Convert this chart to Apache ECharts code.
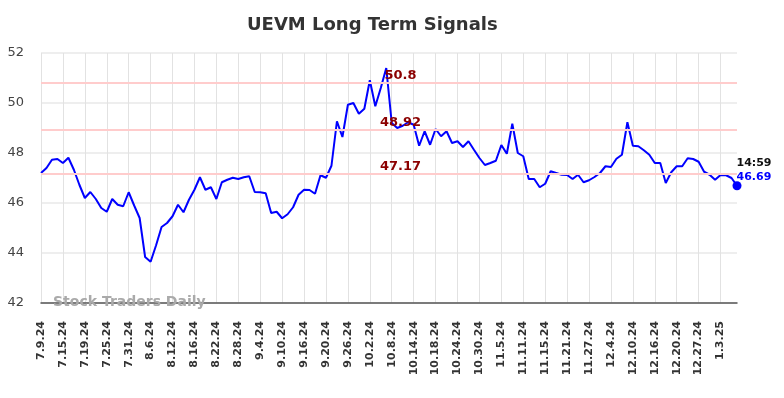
<!DOCTYPE html>
<html>
<head>
<meta charset="utf-8">
<script src="https://cdn.jsdelivr.net/npm/echarts@6/dist/echarts.min.js"></script>
<style>
  html, body { margin: 0; padding: 0; background: #fff; }
  #chart { width: 784px; height: 398px; }
</style>
</head>
<body>
<div id="chart"></div>
<script>
const dates = [
  '7.9.24', '7.10.24', '7.11.24', '7.12.24', '7.15.24', '7.16.24', '7.17.24', '7.18.24', '7.19.24', '7.22.24',
  '7.23.24', '7.24.24', '7.25.24', '7.26.24', '7.29.24', '7.30.24', '7.31.24', '8.1.24', '8.2.24', '8.5.24',
  '8.6.24', '8.7.24', '8.8.24', '8.9.24', '8.12.24', '8.13.24', '8.14.24', '8.15.24', '8.16.24', '8.19.24',
  '8.20.24', '8.21.24', '8.22.24', '8.23.24', '8.26.24', '8.27.24', '8.28.24', '8.29.24', '8.30.24', '9.3.24',
  '9.4.24', '9.5.24', '9.6.24', '9.9.24', '9.10.24', '9.11.24', '9.12.24', '9.13.24', '9.16.24', '9.17.24',
  '9.18.24', '9.19.24', '9.20.24', '9.23.24', '9.24.24', '9.25.24', '9.26.24', '9.27.24', '9.30.24', '10.1.24',
  '10.2.24', '10.3.24', '10.4.24', '10.7.24', '10.8.24', '10.9.24', '10.10.24', '10.11.24', '10.14.24', '10.15.24',
  '10.16.24', '10.17.24', '10.18.24', '10.21.24', '10.22.24', '10.23.24', '10.24.24', '10.25.24', '10.28.24', '10.29.24',
  '10.30.24', '10.31.24', '11.1.24', '11.4.24', '11.5.24', '11.6.24', '11.7.24', '11.8.24', '11.11.24', '11.12.24',
  '11.13.24', '11.14.24', '11.15.24', '11.18.24', '11.19.24', '11.20.24', '11.21.24', '11.22.24', '11.25.24', '11.26.24',
  '11.27.24', '11.29.24', '12.2.24', '12.3.24', '12.4.24', '12.5.24', '12.6.24', '12.9.24', '12.10.24', '12.11.24',
  '12.12.24', '12.13.24', '12.16.24', '12.17.24', '12.18.24', '12.19.24', '12.20.24', '12.23.24', '12.24.24', '12.26.24',
  '12.27.24', '12.30.24', '12.31.24', '1.2.25', '1.3.25', '1.6.25', '1.7.25', '1.8.25'
]

const prices = [
  47.2, 47.4, 47.73, 47.76, 47.6, 47.81, 47.33, 46.73, 46.2, 46.44,
  46.16, 45.8, 45.65, 46.16, 45.93, 45.87, 46.43, 45.9, 45.4, 43.84,
  43.65, 44.31, 45.04, 45.2, 45.47, 45.93, 45.63, 46.13, 46.53, 47.03,
  46.53, 46.63, 46.16, 46.83, 46.93, 47.01, 46.96, 47.03, 47.07, 46.44,
  46.43, 46.39, 45.6, 45.65, 45.39, 45.55, 45.83, 46.33, 46.53, 46.52,
  46.37, 47.11, 47.01, 47.49, 49.27, 48.64, 49.93, 50.0, 49.57, 49.77,
  50.91, 49.87, 50.6, 51.4, 49.2, 49.0, 49.09, 49.23, 49.13, 48.29,
  48.87, 48.33, 48.96, 48.67, 48.87, 48.4, 48.47, 48.24, 48.47, 48.13,
  47.8, 47.52, 47.6, 47.69, 48.32, 47.97, 49.17, 48.0, 47.87, 46.96,
  46.96, 46.63, 46.77, 47.27, 47.2, 47.13, 47.12, 46.96, 47.13, 46.83,
  46.91, 47.04, 47.2, 47.47, 47.44, 47.77, 47.93, 49.23, 48.29, 48.27,
  48.11, 47.93, 47.6, 47.6, 46.8, 47.23, 47.47, 47.47, 47.79, 47.76,
  47.65, 47.25, 47.13, 46.93, 47.12, 47.11, 47.0, 46.69
]

const signals = [50.8, 48.92, 47.17]
const lastTime = '14:59'

const chart = echarts.init(document.getElementById('chart'))
const lastIdx = prices.length - 1

chart.setOption({
  animation: false,
  title: [
    {
      text: 'UEVM Long Term Signals',
      left: 247,
      top: 16,
      padding: 0,
      textStyle: { fontFamily: 'DejaVu Sans', fontWeight: 'bold', fontSize: 18, color: '#333' },
    },
    {
      text: 'Stock Traders Daily',
      left: 53,
      top: 295,
      padding: 0,
      z: 0,
      textStyle: { fontFamily: 'DejaVu Sans', fontWeight: 'bold', fontSize: 14, color: '#aaa' },
    },
  ],
  grid: { left: 41, right: 47, top: 53, bottom: 95 },
  xAxis: {
    type: 'category',
    data: dates,
    boundaryGap: false,
    axisLine: { lineStyle: { color: '#555', width: 1.5 } },
    axisTick: { show: false },
    axisLabel: {
      interval: 3,
      rotate: 90,
      margin: 18,
      fontFamily: 'DejaVu Sans',
      fontWeight: 'bold',
      fontSize: 11,
      color: '#333',
    },
    splitLine: { show: true, interval: 3, lineStyle: { color: '#e2e2e2', width: 1 } },
  },
  yAxis: {
    type: 'value',
    min: 42,
    max: 52,
    interval: 2,
    axisLine: { show: false },
    axisTick: { show: false },
    axisLabel: { margin: 17, fontFamily: 'DejaVu Sans', fontSize: 13, color: '#444' },
    splitLine: { lineStyle: { color: '#e8e8e8', width: 1.5 } },
  },
  series: [
    {
      name: 'signals',
      type: 'line',
      data: [],
      z: 1,
      markLine: {
        silent: true,
        symbol: 'none',
        lineStyle: { color: '#ffcccc', width: 2, type: 'solid' },
        label: {
          position: 'middle',
          distance: 1,
          formatter: p => String(p.value),
          color: '#8b0000',
          fontFamily: 'DejaVu Sans',
          fontWeight: 'bold',
          fontSize: 13,
          padding: [0, 0, 0, 23],
        },
        data: signals.map(v => ({ yAxis: v })),
      },
    },
    {
      name: 'UEVM',
      type: 'line',
      data: prices,
      z: 3,
      symbol: 'none',
      lineStyle: { color: '#0000ff', width: 2 },
      markPoint: {
        symbol: 'circle',
        symbolSize: 9,
        itemStyle: { color: '#0000ff' },
        label: {
          show: true,
          position: [4, -25],
          align: 'left',
          formatter: () => `{t|${lastTime}}\n{v|${prices[lastIdx]}}`,
          rich: {
            t: { color: '#111', fontFamily: 'DejaVu Sans', fontWeight: 'bold', fontSize: 11, lineHeight: 14 },
            v: { color: '#0000ff', fontFamily: 'DejaVu Sans', fontWeight: 'bold', fontSize: 11, lineHeight: 14 },
          },
        },
        data: [{ coord: [lastIdx, prices[lastIdx]] }],
      },
    },
  ],
})
</script>
</body>
</html>
